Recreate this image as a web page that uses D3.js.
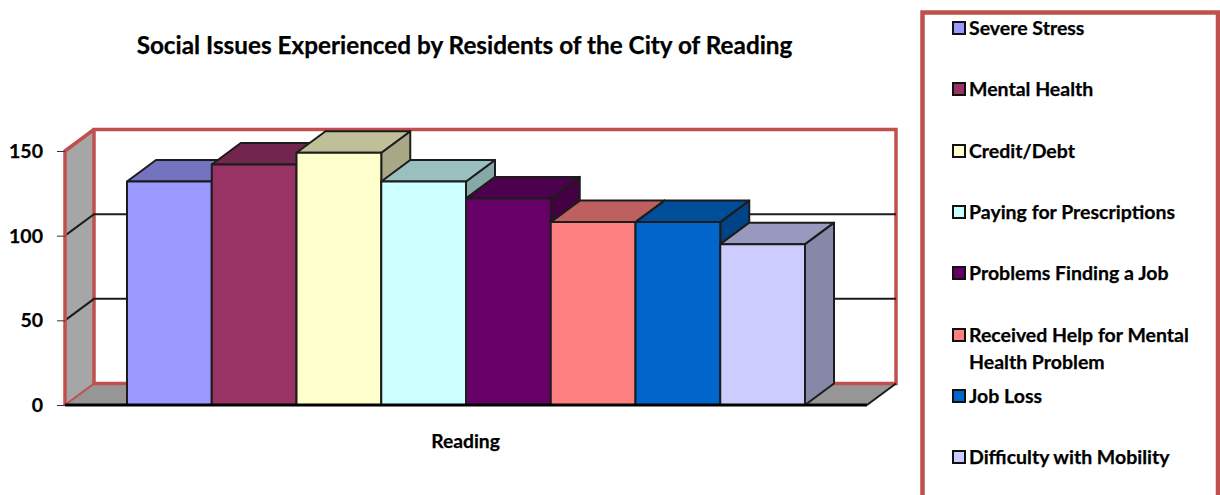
<!DOCTYPE html>
<html><head><meta charset="utf-8">
<script src="https://cdn.jsdelivr.net/npm/d3@7"></script>
<style>html,body{margin:0;padding:0;background:#fff;overflow:hidden}svg{display:block}text{font-family:Lato,"Open Sans",sans-serif;font-weight:700;fill:#000;stroke:#000;stroke-width:.25px}</style>
</head><body><svg id="c" width="1220" height="495"></svg>
<script>
const categories=["Severe Stress","Mental Health","Credit/Debt","Paying for Prescriptions","Problems Finding a Job","Received Help for Mental Health Problem","Job Loss","Difficulty with Mobility"];
const values=[132,142,149,132,122,108,108,95];
const colors=["#9999ff","#993366","#ffffcc","#ccffff","#660066","#ff8080","#0066cc","#ccccff"];
const yTicks=[0,50,100,150];
const legendRows=[[ "Severe Stress"],["Mental Health"],["Credit/Debt"],["Paying for Prescriptions"],["Problems Finding a Job"],["Received Help for Mental","Health Problem"],["Job Loss"],["Difficulty with Mobility"]];
const legendY=[28,89,151,212,273,335,396,457];
const title="Social Issues Experienced by Residents of the City of Reading";
const xLabel="Reading";

const red="#c0504d", ink="#1c1c1c", dx=29, dy=-21.5;
const svg=d3.select("#c");
const y=d3.scaleLinear().domain([0,150]).range([405,151]);
const x=d3.scaleBand().domain(categories).range([127,805]);
const left=65,right=867;
const poly=pts=>pts.map(p=>p.join(",")).join(" ");
const shade=(c,k)=>{const r=d3.rgb(c);return d3.rgb(r.r*k,r.g*k,r.b*k).formatHex();};

svg.append("text").attr("x",464.5).attr("y",54).attr("text-anchor","middle").attr("font-size",24.3).text(title);

// walls
svg.append("polygon").attr("points",poly([[left,y(150)],[left+dx,y(150)+dy],[left+dx,y(0)+dy],[left,y(0)]])).attr("fill","#a6a6a6");
svg.append("polygon").attr("points",poly([[left,y(0)],[left+dx,y(0)+dy],[right+dx,y(0)+dy],[right,y(0)]])).attr("fill","#969696");
svg.append("rect").attr("x",left+dx).attr("y",y(150)+dy).attr("width",right-left).attr("height",y(0)-y(150)).attr("fill","#fff").attr("stroke",red).attr("stroke-width",3.5);

// gridlines
yTicks.filter(t=>t>0&&t<150).forEach(t=>{
  svg.append("polyline").attr("points",poly([[left,y(t)],[left+dx,y(t)+dy],[right+dx,y(t)+dy]])).attr("fill","none").attr("stroke",ink).attr("stroke-width",2);
});

// wall edges
svg.append("polyline").attr("points",poly([[left,y(0)],[left,y(150)],[left+dx,y(150)+dy]])).attr("fill","none").attr("stroke",red).attr("stroke-width",3.5);
svg.append("line").attr("x1",left).attr("y1",y(0)).attr("x2",left+dx).attr("y2",y(0)+dy).attr("stroke",red).attr("stroke-width",2);
svg.append("line").attr("x1",right).attr("y1",y(0)).attr("x2",right+dx).attr("y2",y(0)+dy).attr("stroke",ink).attr("stroke-width",2);

// bars
categories.forEach((c,i)=>{
  const x0=x(c),x1=x0+x.bandwidth(),t=y(values[i]),b=y(0);
  const g=svg.append("g").attr("stroke",ink).attr("stroke-width",2).attr("stroke-linejoin","round");
  g.append("polygon").attr("points",poly([[x1,t],[x1+dx,t+dy],[x1+dx,b+dy],[x1,b]])).attr("fill",shade(colors[i],.66));
  g.append("polygon").attr("points",poly([[x0,t],[x0+dx,t+dy],[x1+dx,t+dy],[x1,t]])).attr("fill",shade(colors[i],.75));
  g.append("rect").attr("x",x0).attr("y",t).attr("width",x1-x0).attr("height",b-t).attr("fill",colors[i]);
});

// axes
const ax=svg.append("g").attr("transform",`translate(${left},0)`).call(d3.axisLeft(y).tickValues(yTicks).tickSize(8).tickPadding(14));
ax.select(".domain").remove();
ax.selectAll("line").attr("stroke","#333").attr("stroke-width",1);
ax.selectAll("text").attr("font-size",19.5).attr("dy","0.34em");
svg.append("line").attr("x1",left).attr("x2",right).attr("y1",y(0)).attr("y2",y(0)).attr("stroke","#000").attr("stroke-width",3);
svg.append("text").attr("x",465.5).attr("y",448).attr("text-anchor","middle").attr("font-size",19.3).text(xLabel);

// legend
svg.append("path").attr("d","M922.5,495V12.5H1218V495").attr("fill","none").attr("stroke",red).attr("stroke-width",4.5);
categories.forEach((c,i)=>{
  svg.append("rect").attr("x",953).attr("y",legendY[i]-6).attr("width",12).attr("height",12).attr("fill",colors[i]).attr("stroke","#111").attr("stroke-width",2);
  legendRows[i].forEach((line,j)=>{
    svg.append("text").attr("x",969).attr("y",legendY[i]+7+j*26.5).attr("font-size",19.5).text(line);
  });
});
</script></body></html>
